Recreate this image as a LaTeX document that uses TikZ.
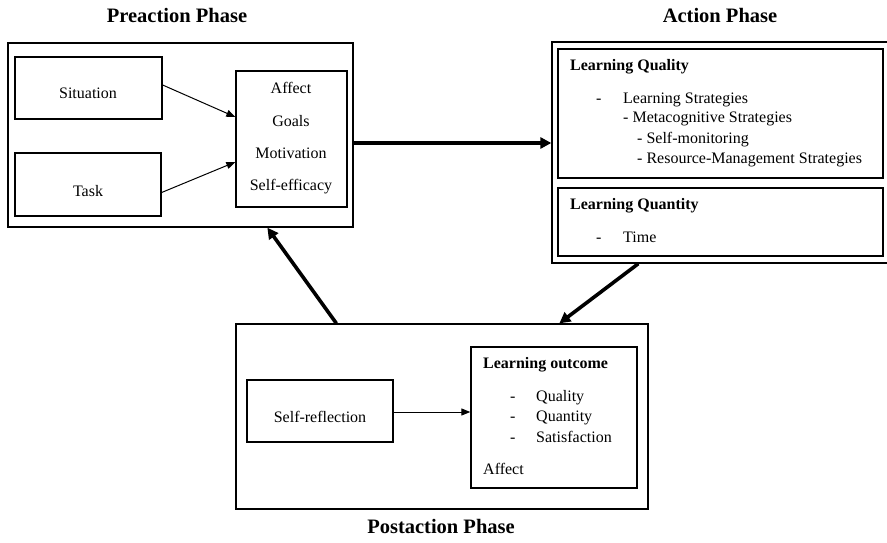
\documentclass[tikz,border=0pt]{standalone}
\usepackage{fontspec}
\setmainfont{Liberation Serif}
\usetikzlibrary{arrows.meta}
\begin{document}
\begin{tikzpicture}[x=1pt,y=-1pt,
  box/.style={draw, line width=1.3pt, inner sep=0pt},
  txt/.style={inner sep=0pt, font=\fontsize{16}{19}\selectfont},
  btxt/.style={inner sep=0pt, font=\fontsize{16}{19}\selectfont\bfseries},
  ttl/.style={inner sep=0pt, anchor=base, font=\fontsize{20.5}{24}\selectfont\bfseries},
  thin/.style={line width=1pt, -{Triangle[length=9pt,width=7pt]}},
  thick/.style={line width=3.6pt, -{Triangle[length=11pt,width=11pt]}}]
\useasboundingbox (0,0) rectangle (887,543);
% titles
\node[ttl] (t1) at (177,23) {Preaction Phase};
\node[ttl] (t2) at (720,23) {Action Phase};
\node[ttl] (t3) at (441,533) {Postaction Phase};
% preaction
\node[box, minimum width=345pt, minimum height=184pt] (pre) at (180.5,135) {};
\node[box, minimum width=147pt, minimum height=62pt] (sit) at (88.5,88) {};
\node[box, minimum width=146pt, minimum height=63pt] (task) at (88,184.5) {};
\node[box, minimum width=111pt, minimum height=136pt] (aff) at (291.5,139) {};
\node[txt, anchor=base] (sitT) at (88,99) {Situation};
\node[txt, anchor=base] (taskT) at (88,196) {Task};
\node[txt, anchor=base] (a1) at (291,94) {Affect};
\node[txt, anchor=base] (a2) at (291,126) {Goals};
\node[txt, anchor=base] (a3) at (291,158) {Motivation};
\node[txt, anchor=base] (a4) at (291,190) {Self-efficacy};
\draw[thin] ([yshift=3pt]sit.east) -- ([yshift=22pt]aff.west);
\draw[thin] ([yshift=-8pt]task.east) -- ([yshift=-23pt]aff.west);
% action
\node[box, minimum width=340pt, minimum height=221pt] (act) at (722,152.5) {};
\node[box, minimum width=325pt, minimum height=129pt] (lq) at (720.5,113.5) {};
\node[box, minimum width=325pt, minimum height=68pt] (lqt) at (720.5,222) {};
\node[btxt, anchor=base west] (q0) at (570,71) {Learning Quality};
\node[txt, anchor=base west] (q1d) at (596,103) {-};
\node[txt, anchor=base west] (q1) at (623,103) {Learning Strategies};
\node[txt, anchor=base west] (q2) at (623,123) {- Metacognitive Strategies};
\node[txt, anchor=base west] (q3) at (637,143) {- Self-monitoring};
\node[txt, anchor=base west] (q4) at (637,164) {- Resource-Management Strategies};
\node[btxt, anchor=base west] (n0) at (570,209) {Learning Quantity};
\node[txt, anchor=base west] (n1d) at (596,242) {-};
\node[txt, anchor=base west] (n1) at (623,242) {Time};
% postaction
\node[box, minimum width=412pt, minimum height=185pt] (post) at (442,416.5) {};
\node[box, minimum width=146pt, minimum height=62pt] (sr) at (320,411) {};
\node[box, minimum width=166pt, minimum height=141pt] (lo) at (554,417.5) {};
\node[txt, anchor=base] (srT) at (320,422) {Self-reflection};
\node[btxt, anchor=base west] (o0) at (483,368) {Learning outcome};
\node[txt, anchor=base west] (o1d) at (510,401) {-};
\node[txt, anchor=base west] (o1) at (536,401) {Quality};
\node[txt, anchor=base west] (o2d) at (510,421) {-};
\node[txt, anchor=base west] (o2) at (536,421) {Quantity};
\node[txt, anchor=base west] (o3d) at (510,442) {-};
\node[txt, anchor=base west] (o3) at (536,442) {Satisfaction};
\node[txt, anchor=base west] (o4) at (483,474) {Affect};
\draw[thin] ([yshift=-1pt]sr.east) -- ([yshift=-1pt]sr.east -| lo.west);
% phase arrows
\draw[thick] ([yshift=-8pt]pre.east) -- ([yshift=-8pt]pre.east -| act.west);
\draw[thick] ([xshift=87pt]act.south west) -- ([xshift=324pt]post.north west);
\draw[thick] ([xshift=101pt]post.north west) -- ([xshift=260pt]pre.south west);
\end{tikzpicture}
\end{document}
